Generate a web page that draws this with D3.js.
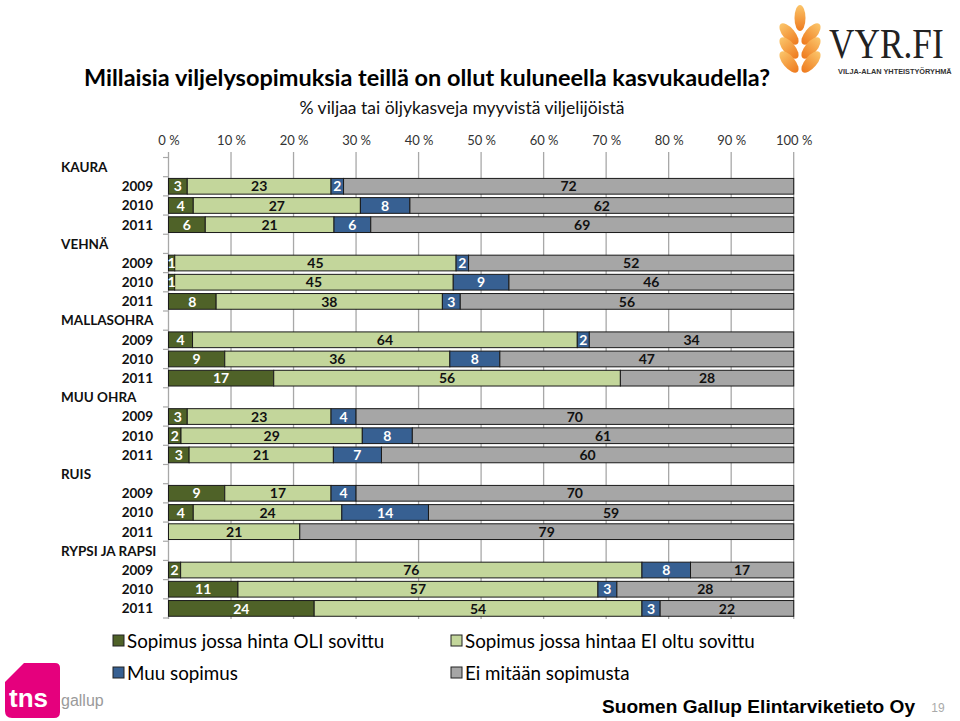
<!DOCTYPE html>
<html><head><meta charset="utf-8">
<script src="https://cdn.jsdelivr.net/npm/d3@7/dist/d3.min.js"></script>
<style>
body{margin:0;background:#fff;}
svg{display:block;}
</style></head><body>
<svg id="c" width="960" height="721"></svg>
<script>
// ---------- DATA ----------
const groups = ["KAURA","VEHNÄ","MALLASOHRA","MUU OHRA","RUIS","RYPSI JA RAPSI"];
const years = ["2009","2010","2011"];
const seriesNames = ["Sopimus jossa hinta OLI sovittu","Sopimus jossa hintaa EI oltu sovittu","Muu sopimus","Ei mitään sopimusta"];
// values per group, per year, in series order
const hintaOli   = [[3,4,6],[1,1,8],[4,9,17],[3,2,3],[9,4,0],[2,11,24]];
const hintaEi    = [[23,27,21],[45,45,38],[64,36,56],[23,29,21],[17,24,21],[76,57,54]];
const muuSopimus = [[2,8,6],[2,9,3],[2,8,0],[4,8,7],[4,14,0],[8,3,3]];
const eiMitaan   = [[72,62,69],[52,46,56],[34,47,28],[70,61,60],[70,59,79],[17,28,22]];
const xTicks = [0,10,20,30,40,50,60,70,80,90,100];
const colors = ["#4F6228","#C3D69B","#376092","#A6A6A6"];
const labelColors = ["#fff","#111","#fff","#111"];

// ---------- BUILD ROWS ----------
const rows = [];
groups.forEach((g,gi)=>{
  rows.push({key:"h"+gi, label:g, header:true});
  years.forEach((y,yi)=>{
    rows.push({key:g+y, label:y, header:false,
      s0:hintaOli[gi][yi], s1:hintaEi[gi][yi], s2:muuSopimus[gi][yi], s3:eiMitaan[gi][yi]});
  });
});
const dataRows = rows.filter(r=>!r.header);
const stack = d3.stack().keys(["s0","s1","s2","s3"]).offset(d3.stackOffsetExpand);
const stacked = stack(dataRows);

const svg = d3.select("#c");
const font = "Lato, 'Open Sans', sans-serif";

const x = d3.scaleLinear().domain([0,1]).range([168.5,793.7]);
const y = d3.scaleBand().domain(rows.map(r=>r.key)).range([157.5,618]).paddingInner(0.18).paddingOuter(0.09);
const step = y.step();

// gridlines
svg.append("g").selectAll("line").data(xTicks).join("line")
  .attr("x1",d=>x(d/100)).attr("x2",d=>x(d/100))
  .attr("y1",152).attr("y2",619)
  .attr("stroke","#A8A8A8").attr("stroke-width",1.3);

// x axis labels (top)
const xAxis = d3.axisTop(x).tickValues(xTicks.map(d=>d/100)).tickFormat(d=>Math.round(d*100)+" %").tickSize(0);
const xa = svg.append("g").attr("transform","translate(0,148)").call(xAxis);
xa.select(".domain").remove();
xa.selectAll("text").attr("font-family",font).attr("font-size",13).attr("fill","#333").attr("dy","0");

// y category ticks
const bounds = d3.range(rows.length+1).map(i=>157.5+i*step);
svg.append("g").selectAll("line").data(bounds).join("line")
  .attr("x1",163).attr("x2",169).attr("y1",d=>d).attr("y2",d=>d)
  .attr("stroke","#A8A8A8").attr("stroke-width",1.2);

// row labels
svg.append("g").selectAll("text").data(rows).join("text")
  .attr("x",d=>d.header?61:153)
  .attr("y",d=>y(d.key)+y.bandwidth()/2)
  .attr("dy","0.36em")
  .attr("text-anchor",d=>d.header?"start":"end")
  .attr("font-family",font).attr("font-weight",700).attr("font-size",13.5)
  .attr("fill","#111")
  .text(d=>d.label);

// bars
const layers = svg.append("g").selectAll("g").data(stacked).join("g")
  .attr("fill",(d,i)=>colors[i]);
layers.selectAll("rect").data(d=>d.filter(s=>s[1]-s[0]>0)).join("rect")
  .attr("x",d=>x(d[0])).attr("width",d=>x(d[1])-x(d[0]))
  .attr("y",d=>y(d.data.key)).attr("height",y.bandwidth())
  .attr("stroke","#1a1a1a").attr("stroke-width",1);

// value labels
stacked.forEach((layer,li)=>{
  svg.append("g").selectAll("text").data(layer.filter(s=>s.data["s"+li]>0)).join("text")
    .attr("x",d=>(x(d[0])+x(d[1]))/2)
    .attr("y",d=>y(d.data.key)+y.bandwidth()/2)
    .attr("dy","0.37em").attr("text-anchor","middle")
    .attr("font-family",font).attr("font-weight",700).attr("font-size",14)
    .attr("fill",labelColors[li])
    .text(d=>d.data["s"+li]);
});

// title
svg.append("text").attr("x",84).attr("y",86)
  .attr("font-family",font).attr("font-weight",700).attr("font-size",22)
  .attr("textLength",686).attr("lengthAdjust","spacingAndGlyphs")
  .attr("fill","#000").text("Millaisia viljelysopimuksia teillä on ollut kuluneella kasvukaudella?");
svg.append("text").attr("x",462).attr("y",114).attr("text-anchor","middle")
  .attr("font-family",font).attr("font-size",17.5).attr("fill","#111")
  .text("% viljaa tai öljykasveja myyvistä viljelijöistä");

// legend
const legPos = [[113,641],[451,641],[113,673],[451,673]];
const leg = svg.append("g").selectAll("g").data([0,1,2,3]).join("g")
  .attr("transform",d=>`translate(${legPos[d][0]},${legPos[d][1]})`);
leg.append("rect").attr("x",0).attr("y",-6).attr("width",11).attr("height",11)
  .attr("fill",d=>colors[d]).attr("stroke","#222").attr("stroke-width",1);
leg.append("text").attr("x",14).attr("y",0).attr("dy","0.36em")
  .attr("font-family",font).attr("font-size",18.8).attr("fill","#000")
  .text(d=>seriesNames[d]);

// footer
svg.append("text").attr("x",602).attr("y",713)
  .attr("font-family","'Liberation Sans', Arial, sans-serif").attr("font-weight",700).attr("font-size",18.5)
  .attr("textLength",313).attr("lengthAdjust","spacingAndGlyphs")
  .attr("fill","#000").text("Suomen Gallup Elintarviketieto Oy");
svg.append("text").attr("x",938).attr("y",712).attr("text-anchor","middle")
  .attr("font-family","'Liberation Sans', Arial, sans-serif").attr("font-size",12)
  .attr("fill","#aaa").text("19");

// TNS logo
svg.append("path").attr("d","M24,663 L55,663 Q60,663 60,668 L60,712 Q60,718 54,718 L12,718 Q5,718 5,711 L5,682 Z")
  .attr("fill","#E5007D");
svg.append("text").attr("x",9).attr("y",707).attr("font-family","'Liberation Sans', Arial, sans-serif")
  .attr("font-weight",700).attr("font-size",26).attr("fill","#fff").text("tns");
svg.append("text").attr("x",61).attr("y",706).attr("font-family","'Liberation Sans Narrow','Liberation Sans', Arial, sans-serif")
  .attr("font-size",16).attr("fill","#9a9a9a").text("gallup");

// VYR.FI logo
const defs = svg.append("defs");
const grad = defs.append("linearGradient").attr("id","wg").attr("x1","0").attr("y1","0").attr("x2","0").attr("y2","1");
grad.append("stop").attr("offset","0").attr("stop-color","#FBC56A");
grad.append("stop").attr("offset","1").attr("stop-color","#EE7A1E");
const w = svg.append("g").attr("fill","url(#wg)");
w.append("ellipse").attr("cx",800).attr("cy",18).attr("rx",5.5).attr("ry",13);
[0,14,28].forEach(dy=>{
  w.append("ellipse").attr("cx",0).attr("cy",0).attr("rx",6).attr("ry",13)
    .attr("transform",`translate(789,${34+dy}) rotate(-40)`);
  w.append("ellipse").attr("cx",0).attr("cy",0).attr("rx",6).attr("ry",13)
    .attr("transform",`translate(811,${34+dy}) rotate(40)`);
});
svg.append("g").attr("transform","translate(829,58) scale(0.84,1)")
  .append("text").attr("x",0).attr("y",0)
  .attr("font-family","'Liberation Serif','DejaVu Serif',serif").attr("font-size",42)
  .attr("fill","#222").text("VYR.FI");
svg.append("g").attr("transform","translate(838,74) scale(0.98,1)")
  .append("text").attr("x",0).attr("y",0)
  .attr("font-family","'Liberation Sans', Arial, sans-serif").attr("font-weight",700).attr("font-size",7.5)
  .attr("fill","#333").text("VILJA-ALAN YHTEISTYÖRYHMÄ");
</script>
</body></html>
